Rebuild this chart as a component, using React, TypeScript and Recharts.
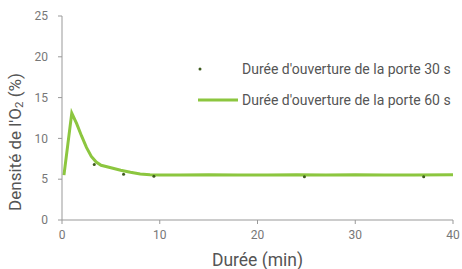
import React from 'react';
import { ComposedChart, Line, Scatter, XAxis, YAxis, Legend, Label } from 'recharts';

const xTicks = [0, 10, 20, 30, 40];
const yTicks = [0, 5, 10, 15, 20, 25];

const series60 = [
  { x: 0.2, y: 5.5 }, { x: 0.6, y: 9.3 }, { x: 1.0, y: 13.1 }, { x: 1.5, y: 11.8 },
  { x: 2.0, y: 10.3 }, { x: 2.5, y: 8.9 }, { x: 3.0, y: 7.8 }, { x: 3.5, y: 7.1 },
  { x: 4.0, y: 6.7 }, { x: 5.0, y: 6.4 }, { x: 6.0, y: 6.1 }, { x: 7.0, y: 5.85 },
  { x: 8.0, y: 5.65 }, { x: 9.0, y: 5.55 }, { x: 10, y: 5.5 }, { x: 12, y: 5.5 },
  { x: 15, y: 5.55 }, { x: 18, y: 5.5 }, { x: 21, y: 5.5 }, { x: 24, y: 5.55 },
  { x: 27, y: 5.5 }, { x: 30, y: 5.55 }, { x: 33, y: 5.5 }, { x: 36, y: 5.5 },
  { x: 40, y: 5.55 },
];

const series30 = [
  { x: 3.3, y: 6.8 }, { x: 6.3, y: 5.6 }, { x: 9.4, y: 5.35 },
  { x: 24.8, y: 5.3 }, { x: 37, y: 5.3 },
];

const label30 = "Durée d'ouverture de la porte 30 s";
const label60 = "Durée d'ouverture de la porte 60 s";

const LIGHT = '#8cc63f';
const DARK = '#3d5a1e';
const FONT = 'Roboto, sans-serif';

const renderLegend = () => (
  <div style={{ fontFamily: FONT, fontSize: 14, color: '#555', whiteSpace: 'nowrap' }}>
    <div style={{ display: 'flex', alignItems: 'center', height: 20 }}>
      <svg width={44} height={20}>
        <circle cx={2} cy={10} r={1.5} fill={DARK} />
      </svg>
      <span>{label30}</span>
    </div>
    <div style={{ display: 'flex', alignItems: 'center', height: 20, marginTop: 11 }}>
      <svg width={44} height={20}>
        <line x1={0} y1={10} x2={40} y2={10} stroke={LIGHT} strokeWidth={3} />
      </svg>
      <span>{label60}</span>
    </div>
  </div>
);

const YTitle = () => {
  const x = 15;
  const y = 142;
  return (
    <text x={x} y={y} transform={`rotate(-90 ${x} ${y})`} textAnchor="middle" dominantBaseline="central"
      fontFamily={FONT} fontSize={17} fill="#555">
      Densité de l'O<tspan fontSize={11.5} dy={4}>2</tspan><tspan dy={-4}> (%)</tspan>
    </text>
  );
};

export default function App() {
  return (
    <div style={{ position: 'absolute', left: 0, top: 0, background: '#fff' }}>
      <ComposedChart width={462} height={269} margin={{ top: 16, right: 9, left: 0, bottom: 0 }}>
        <XAxis dataKey="x" type="number" domain={[0, 40]} ticks={xTicks} allowDuplicatedCategory={false}
          stroke="#999" tickSize={4} tickMargin={6} height={49}
          tick={{ fill: '#777', fontSize: 12, fontFamily: FONT }}>
          <Label value="Durée (min)" position="insideBottom" offset={3}
            style={{ fill: '#555', fontSize: 17.5, fontFamily: FONT }} />
        </XAxis>
        <YAxis type="number" domain={[0, 25]} ticks={yTicks} width={62}
          stroke="#999" tickSize={4} tickMargin={10}
          tick={{ fill: '#777', fontSize: 12, fontFamily: FONT }}>
          <Label content={<YTitle />} />
        </YAxis>
        <Legend layout="vertical" align="center" verticalAlign="middle" content={renderLegend}
          wrapperStyle={{ position: 'absolute', left: 198, top: 59, width: 262 }} />
        <Scatter data={series30} dataKey="y" name={label30} fill={DARK} isAnimationActive={false}
          shape={(p: any) => <circle cx={p.cx} cy={p.cy} r={1.5} fill={DARK} />} />
        <Line data={series60} dataKey="y" name={label60} type="linear" stroke={LIGHT} strokeWidth={3}
          dot={false} activeDot={false} isAnimationActive={false} />
      </ComposedChart>
    </div>
  );
}
